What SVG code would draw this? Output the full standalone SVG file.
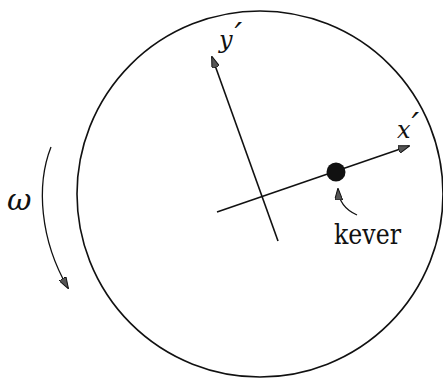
<svg xmlns="http://www.w3.org/2000/svg" width="443" height="379" viewBox="0 0 443 379">
<defs>
<style>
.ln{fill:none;stroke:#111;stroke-width:1.6}
.thin{fill:none;stroke:#111;stroke-width:1.3}
text{fill:#111}
.lbl{font-style:italic}
.pr{font-size:34px}
</style>
<marker id="ah" viewBox="0 0 12 8" refX="11" refY="4" markerWidth="12" markerHeight="8" markerUnits="userSpaceOnUse" orient="auto">
<path d="M0,0 L12,4 L0,8 Z" fill="#555" stroke="#111" stroke-width="1"/>
</marker>
</defs>
<g id="disk"><circle cx="260" cy="194" r="183" class="ln"/></g>
<g id="connectors">
<line id="yaxis" x1="278" y1="241" x2="212" y2="57" class="ln" marker-end="url(#ah)"/>
<line id="xaxis" x1="217" y1="212" x2="409" y2="146" class="ln" marker-end="url(#ah)"/>
<path id="kever-arrow" d="M357,215 Q339,207 338,189" class="thin" marker-end="url(#ah)"/>
<path id="omega-arrow" d="M51,147 C36,185 40,240 68,288" class="thin" marker-end="url(#ah)"/>
</g>
<g id="bug"><circle cx="336" cy="172" r="9.5" fill="#111"/></g>
<g id="labels">
<text x="397" y="138" font-size="24" class="lbl" font-family="DejaVu Serif, serif">x<tspan class="pr" dx="1" dy="-1">′</tspan></text>
<text x="219" y="48" font-size="24" class="lbl" font-family="DejaVu Serif, serif">y<tspan class="pr" dx="2" dy="-1">′</tspan></text>
<text x="7" y="210" font-size="30" class="lbl" font-family="DejaVu Serif, serif">ω</text>
<text x="334" y="244" font-size="27" font-family="DejaVu Serif, serif" textLength="67" lengthAdjust="spacingAndGlyphs">kever</text>
</g>
</svg>
